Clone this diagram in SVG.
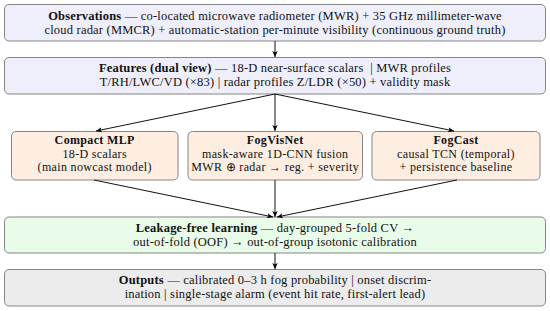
<svg xmlns="http://www.w3.org/2000/svg" width="550" height="311" viewBox="0 0 550 311">
<defs>
<marker id="ah" viewBox="0 0 10 10" refX="10" refY="5" markerWidth="6" markerHeight="6" markerUnits="userSpaceOnUse" orient="auto">
<path d="M0,0.5 L10,5 L0,9.5 L2.5,5 Z" fill="#000"/>
</marker>
<style>
.box{stroke:#858585;stroke-width:1}
.blue{fill:#efeffc}
.peach{fill:#fdeee1}
.green{fill:#e9fce9}
.gray{fill:#ececec}
text{font-family:"Liberation Serif","Times New Roman",serif;font-size:12.5px;letter-spacing:0.2px;fill:#111;text-anchor:middle}
.m{font-size:12px;letter-spacing:0.35px}
.b{font-weight:bold}
.c{stroke:#111;stroke-width:1;fill:none;marker-end:url(#ah)}
</style>
</defs>
<g id="observations">
<rect class="box blue" x="4.5" y="4.5" width="541" height="36.5" rx="4.5"/>
<text x="275" y="19.5"><tspan class="b">Observations</tspan> — co-located microwave radiometer (MWR) + 35 GHz millimeter-wave</text>
<text x="275" y="33.5">cloud radar (MMCR) + automatic-station per-minute visibility (continuous ground truth)</text>
</g>
<g id="features">
<rect class="box blue" x="4.5" y="57.5" width="541" height="36.5" rx="4.5"/>
<text x="275" y="72"><tspan class="b">Features (dual view)</tspan> — 18-D near-surface scalars &#160;| MWR profiles</text>
<text x="275" y="86">T/RH/LWC/VD (×83) | radar profiles Z/LDR (×50) + validity mask</text>
</g>
<g id="compact-mlp">
<rect class="box peach" x="11.5" y="131.5" width="166.5" height="48.5" rx="4.5"/>
<text x="94.7" y="144" class="m b">Compact MLP</text>
<text x="94.7" y="157.5" class="m">18-D scalars</text>
<text x="94.7" y="171" class="m">(main nowcast model)</text>
</g>
<g id="fogvisnet">
<rect class="box peach" x="188" y="131.5" width="174.5" height="48.5" rx="4.5"/>
<text x="275.2" y="144" class="m b">FogVisNet</text>
<text x="275.2" y="157.5" class="m">mask-aware 1D-CNN fusion</text>
<text x="275.2" y="171" class="m">MWR ⊕ radar → reg. + severity</text>
</g>
<g id="fogcast">
<rect class="box peach" x="372" y="131.5" width="168" height="48.5" rx="4.5"/>
<text x="456" y="144" class="m b">FogCast</text>
<text x="456" y="157.5" class="m">causal TCN (temporal)</text>
<text x="456" y="171" class="m">+ persistence baseline</text>
</g>
<g id="learning">
<rect class="box green" x="4.5" y="217" width="541" height="36" rx="4.5"/>
<text x="275" y="231.5"><tspan class="b">Leakage-free learning</tspan> — day-grouped 5-fold CV →</text>
<text x="275" y="245.5">out-of-fold (OOF) → out-of-group isotonic calibration</text>
</g>
<g id="outputs">
<rect class="box gray" x="4.5" y="269.5" width="541" height="36.5" rx="4.5"/>
<text x="275" y="284"><tspan class="b">Outputs</tspan> — calibrated 0–3 h fog probability | onset discrim-</text>
<text x="275" y="298">ination | single-stage alarm (event hit rate, first-alert lead)</text>
</g>
<g id="connectors">
<line class="c" x1="275" y1="41" x2="275" y2="57"/>
<line class="c" x1="275" y1="94" x2="96" y2="131"/>
<line class="c" x1="275" y1="94" x2="275" y2="131"/>
<line class="c" x1="275" y1="94" x2="454" y2="131"/>
<line class="c" x1="94" y1="180" x2="273" y2="217"/>
<line class="c" x1="275" y1="180" x2="275" y2="217"/>
<line class="c" x1="457" y1="180" x2="277" y2="217"/>
<line class="c" x1="275" y1="253" x2="275" y2="269"/>
</g>
</svg>
